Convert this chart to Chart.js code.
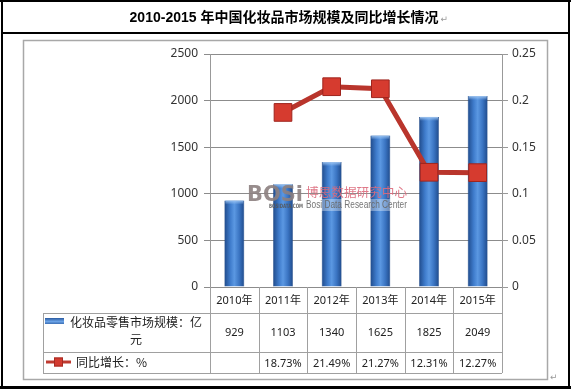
<!DOCTYPE html>
<html><head><meta charset="utf-8">
<script src="https://cdn.jsdelivr.net/npm/chart.js@4/dist/chart.umd.min.js"></script>
<style>html,body{margin:0;padding:0;background:#fff}#wrap{width:571px;height:389px;position:relative}</style>
</head><body><div id="wrap"><canvas id="c"></canvas></div>
<script>
const titleText = '2010-2015 年中国化妆品市场规模及同比增长情况';
const categories = ['2010年','2011年','2012年','2013年','2014年','2015年'];
const marketSize = [929, 1103, 1340, 1625, 1825, 2049];
const growth = [null, 0.1873, 0.2149, 0.2127, 0.1231, 0.1227];
const leftTicks = ['0','500','1000','1500','2000','2500'];
const rightTicks = ['0','0.05','0.1','0.15','0.2','0.25'];
const seriesNames = ['化妆品零售市场规模：亿元', '同比增长：%'];
const watermark = ['BOSi', 'BOSIDATA.COM', '博思数据研究中心', 'Bosi Data Research Center'];

const NUM_FONT = '"Noto Sans", "Noto Sans CJK SC", sans-serif';
const CJK_FONT = '"Noto Sans CJK SC", sans-serif';
const BAR_PCT = 0.41;

function barFill(c) {
  const chart = c.chart, xs = chart.scales.x;
  if (!xs || c.dataIndex === undefined || !xs.width) return '#3a73c2';
  const cx = xs.getPixelForValue(c.dataIndex);
  const w = xs.width / categories.length * BAR_PCT;
  const g = chart.ctx.createLinearGradient(cx - w / 2, 0, cx + w / 2, 0);
  g.addColorStop(0, '#1f4a8a');
  g.addColorStop(0.3, '#3f7ccc');
  g.addColorStop(0.5, '#5b98e2');
  g.addColorStop(0.75, '#3a74c2');
  g.addColorStop(1, '#1f4a8a');
  return g;
}

function fitText(ctx, text, x, y, width) {
  ctx.save();
  const w = ctx.measureText(text).width;
  ctx.translate(x, y);
  ctx.scale(width / w, 1);
  ctx.fillText(text, 0, 0);
  ctx.restore();
}

const framePlugin = {
  id: 'frame',
  beforeDraw(chart) {
    const ctx = chart.ctx;
    ctx.save();
    ctx.fillStyle = '#fff';
    ctx.fillRect(0, 0, chart.width, chart.height);
    ctx.fillStyle = '#000';
    ctx.fillRect(0, 0, 571, 2);
    ctx.fillRect(1, 0, 2, 389);
    ctx.fillRect(568, 0, 2, 389);
    ctx.fillRect(1, 32, 569, 2);
    ctx.fillRect(0, 386, 571, 3);
    ctx.strokeStyle = '#a8a8a8';
    ctx.lineWidth = 1.5;
    ctx.strokeRect(23.5, 40.5, 524, 339);
    ctx.fillStyle = '#000';
    ctx.font = 'bold 14px "Liberation Sans", "Noto Sans CJK SC", sans-serif';
    ctx.textAlign = 'center';
    ctx.textBaseline = 'middle';
    ctx.fillText(titleText, 284, 18);
    const tw = ctx.measureText(titleText).width;
    ctx.fillStyle = '#999';
    ctx.font = '9px "DejaVu Sans"';
    ctx.textAlign = 'left';
    ctx.fillText('\u21B5', 284 + tw / 2 + 2, 20);
    ctx.fillText('\u21B5', 550, 378);
    ctx.restore();
  },
  afterDatasetsDraw(chart) {
    const ctx = chart.ctx;
    const meta = chart.getDatasetMeta(1);
    ctx.save();
    meta.data.forEach(el => {
      const x0 = el.x - el.width / 2;
      const g = ctx.createLinearGradient(0, el.y, 0, el.y + 4);
      g.addColorStop(0, 'rgba(160,200,245,0.9)');
      g.addColorStop(1, 'rgba(160,200,245,0)');
      ctx.fillStyle = g;
      ctx.fillRect(x0 + 1, el.y, el.width - 2, 4);
    });
    // watermark
    ctx.fillStyle = 'rgba(255,255,255,0.35)';
    ctx.fillRect(305, 199, 103, 12);
    ctx.globalAlpha = 0.9;
    ctx.textBaseline = 'middle';
    ctx.textAlign = 'left';
    ctx.font = 'bold 22px "DejaVu Sans", sans-serif';
    ctx.fillStyle = '#8c8080';
    fitText(ctx, watermark[0], 247, 195, 56);
    ctx.font = 'bold 6px "DejaVu Sans"';
    ctx.fillStyle = '#555';
    fitText(ctx, watermark[1], 269, 206, 34);
    ctx.font = '12.5px ' + CJK_FONT;
    ctx.fillStyle = '#dc6a7c';
    fitText(ctx, watermark[2], 306, 192, 101);
    ctx.font = '11px "Liberation Sans", sans-serif';
    ctx.fillStyle = '#666';
    fitText(ctx, watermark[3], 306, 205, 101);
    ctx.restore();
  },
  afterDraw(chart) {
    const ctx = chart.ctx, xs = chart.scales.x;
    const n = categories.length;
    const L = xs.left, R = xs.right, colW = (R - L) / n;
    const top = chart.chartArea.bottom;
    const r1 = top + 26, r2 = top + 65, r3 = top + 86;
    const tl = 43;
    ctx.save();
    ctx.strokeStyle = '#a0a0a0';
    ctx.lineWidth = 1;
    ctx.beginPath();
    [r1, r2, r3].forEach(y => { ctx.moveTo(tl, Math.round(y) + 0.5); ctx.lineTo(R, Math.round(y) + 0.5); });
    ctx.moveTo(tl + 0.5, r1); ctx.lineTo(tl + 0.5, r3);
    for (let i = 0; i <= n; i++) {
      const x = Math.round(L + i * colW) + 0.5;
      ctx.moveTo(x, top); ctx.lineTo(x, r3);
    }
    ctx.stroke();
    ctx.fillStyle = '#222';
    ctx.textAlign = 'center';
    ctx.textBaseline = 'middle';
    ctx.font = '11px ' + NUM_FONT;
    categories.forEach((c, i) => {
      const cx = xs.getPixelForValue(i);
      ctx.fillText(c, cx, (top + r1) / 2 + 1);
      ctx.fillText(String(marketSize[i]), cx, (r1 + r2) / 2);
      if (growth[i] !== null) ctx.fillText((growth[i] * 100).toFixed(2) + '%', cx, (r2 + r3) / 2 + 1);
    });
    const g = ctx.createLinearGradient(0, 318, 0, 325);
    g.addColorStop(0, '#2a5aa0'); g.addColorStop(0.5, '#6aa2e6'); g.addColorStop(1, '#2a5aa0');
    ctx.fillStyle = g;
    ctx.fillRect(45, 318, 19, 6);
    ctx.strokeStyle = '#bf3a30';
    ctx.lineWidth = 3;
    ctx.beginPath(); ctx.moveTo(46, 362); ctx.lineTo(71, 362); ctx.stroke();
    ctx.fillStyle = '#d43a2f';
    ctx.fillRect(54, 357.5, 9, 9);
    ctx.strokeStyle = '#a52a22'; ctx.lineWidth = 1;
    ctx.strokeRect(54.5, 358, 8, 8);
    ctx.fillStyle = '#222';
    ctx.font = '12px ' + CJK_FONT;
    ctx.textAlign = 'center';
    const maxW = 136;
    const name = seriesNames[0];
    let line1 = '';
    for (const ch of name) { if (ctx.measureText(line1 + ch).width > maxW) break; line1 += ch; }
    const line2 = name.slice(line1.length);
    const w1 = ctx.measureText(line1).width;
    const c1 = 70 + w1 / 2;
    ctx.fillText(line1, c1, 322);
    if (line2) ctx.fillText(line2, c1, 339);
    ctx.textAlign = 'left';
    ctx.fillText(seriesNames[1], 76, 362);
    ctx.restore();
  }
};

new Chart(document.getElementById('c'), {
  type: 'bar',
  data: {
    labels: categories,
    datasets: [
      {
        type: 'line', label: seriesNames[1], data: growth, yAxisID: 'y1', order: 0,
        borderColor: '#b9352c', borderWidth: 5, spanGaps: false,
        pointStyle: 'rect', pointRadius: 12.5, pointBackgroundColor: '#d63b2f',
        pointBorderColor: '#9e241d', pointBorderWidth: 1, tension: 0
      },
      {
        type: 'bar', label: seriesNames[0], data: marketSize, yAxisID: 'y', order: 1,
        backgroundColor: barFill, borderColor: '#1d4580', borderWidth: 0.5,
        barPercentage: BAR_PCT, categoryPercentage: 1
      }
    ]
  },
  options: {
    responsive: true, maintainAspectRatio: false, animation: false,
    layout: { padding: { top: 54, bottom: 16, left: 0, right: 0 } },
    plugins: { legend: { display: false }, tooltip: { enabled: false }, title: { display: false } },
    scales: {
      x: {
        grid: { display: false }, ticks: { display: false }, border: { display: false },
        afterFit(s) { s.height = 86; }
      },
      y: {
        position: 'left', min: 0, max: 2500,
        ticks: { stepSize: 500, color: '#333', font: { family: NUM_FONT, size: 12 }, padding: 6,
          callback: (v, i) => leftTicks[i] },
        grid: { color: '#8c8c8c', tickLength: 6, drawTicks: true },
        border: { color: '#999' },
        afterFit(s) { s.width = 210; }
      },
      y1: {
        position: 'right', min: 0, max: 0.25,
        ticks: { stepSize: 0.05, color: '#333', font: { family: NUM_FONT, size: 12 }, padding: 4,
          callback: (v, i) => rightTicks[i] },
        grid: { drawOnChartArea: false, color: '#999', tickLength: 6 },
        border: { color: '#999' },
        afterFit(s) { s.width = 69; }
      }
    }
  },
  plugins: [framePlugin]
});
</script>
</body></html>
